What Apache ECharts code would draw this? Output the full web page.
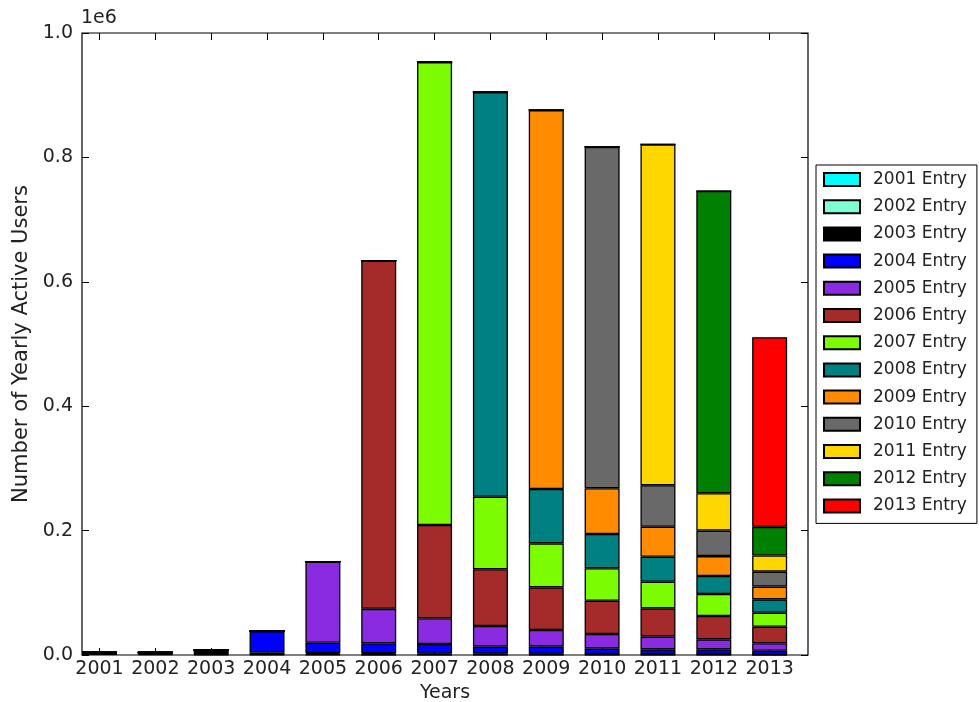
<!DOCTYPE html>
<html>
<head>
<meta charset="utf-8">
<script src="https://cdn.jsdelivr.net/npm/echarts@6/dist/echarts.min.js"></script>
<style>
  html, body { margin: 0; padding: 0; background: #fff; }
  #main { width: 979px; height: 702px; }
</style>
</head>
<body>
<div id="main"></div>
<script>
// years on the x axis
const years = ['2001', '2002', '2003', '2004', '2005', '2006', '2007', '2008', '2009', '2010', '2011', '2012', '2013'];

// active users per year, split by entry-year cohort
const entry2001 = [4000, 1000, 700, 600, 500, 500, 400, 400, 300, 300, 300, 300, 200];
const entry2002 = [0, 3000, 1000, 800, 700, 600, 500, 500, 400, 400, 300, 300, 300];
const entry2003 = [0, 0, 6000, 3000, 2000, 1800, 1500, 1300, 1200, 1000, 900, 800, 700];
const entry2004 = [0, 0, 0, 34000, 16600, 16000, 15300, 11200, 11500, 9000, 7600, 7700, 5700];
const entry2005 = [0, 0, 0, 0, 130200, 55300, 41300, 33200, 26800, 23100, 20400, 16100, 11900];
const entry2006 = [0, 0, 0, 0, 0, 559900, 150000, 91200, 68600, 53500, 45500, 37500, 26700];
const entry2007 = [0, 0, 0, 0, 0, 0, 744000, 116700, 70700, 52100, 42800, 35300, 22500];
const entry2008 = [0, 0, 0, 0, 0, 0, 0, 650500, 87500, 55100, 40200, 29000, 21500];
const entry2009 = [0, 0, 0, 0, 0, 0, 0, 0, 609000, 73500, 48300, 32000, 20500];
const entry2010 = [0, 0, 0, 0, 0, 0, 0, 0, 0, 549000, 66700, 41000, 24000];
const entry2011 = [0, 0, 0, 0, 0, 0, 0, 0, 0, 0, 548000, 60000, 26000];
const entry2012 = [0, 0, 0, 0, 0, 0, 0, 0, 0, 0, 0, 486000, 46000];
const entry2013 = [0, 0, 0, 0, 0, 0, 0, 0, 0, 0, 0, 0, 305000];

const cohortNames = ['2001 Entry', '2002 Entry', '2003 Entry', '2004 Entry', '2005 Entry', '2006 Entry', '2007 Entry',
  '2008 Entry', '2009 Entry', '2010 Entry', '2011 Entry', '2012 Entry', '2013 Entry'];
const cohortValues = [entry2001, entry2002, entry2003, entry2004, entry2005, entry2006, entry2007,
  entry2008, entry2009, entry2010, entry2011, entry2012, entry2013];

const yTicks = [0, 200000, 400000, 600000, 800000, 1000000];

const colors = ['#00ffff', '#7fffd4', '#000000', '#0000ff', '#8a2be2', '#a52a2a', '#7cfc00',
  '#008080', '#ff8c00', '#696969', '#ffd700', '#008000', '#ff0000'];

const FONT = 'DejaVu Sans';
const plotW = 726;
const band = plotW / years.length;
const barW = 35;
// bars sit at the left of each slot (matplotlib style), tick labels at bar centres
const shift = (barW / 2) / band;
const yearIdx = years.map((y, i) => i);

const series = cohortValues.map((vals, i) => ({
  name: cohortNames[i],
  type: 'bar',
  stack: 'users',
  barWidth: barW,
  barGap: '0%',
  data: vals,
  itemStyle: { color: colors[i], borderColor: '#000', borderWidth: 1.3 }
}));
// empty spacer stack that pushes the real bars to the left of each slot
series.push({
  name: 'spacer',
  type: 'bar',
  stack: 'spacer',
  barWidth: band - barW,
  barGap: '0%',
  data: years.map(() => null),
  silent: true
});

const tickStyle = { show: true, inside: true, length: 7, lineStyle: { color: '#000', width: 1 } };
// axes must not jump to the other axis' zero (x axis is shifted so 0 is not at the edge)
const noLine = { show: false, onZero: false };

const option = {
  animation: false,
  textStyle: { fontFamily: FONT },
  grid: {
    left: 82, right: 171, top: 33, bottom: 47,
    outerBoundsMode: 'none',
    containLabel: false,
    show: true, borderColor: '#000', borderWidth: 1.2, backgroundColor: 'transparent'
  },
  legend: {
    data: cohortNames,
    orient: 'vertical',
    left: 816,
    top: 165,
    padding: [6, 10, 9, 7],
    itemWidth: 36,
    itemHeight: 13,
    itemGap: 10.2,
    borderColor: '#000',
    borderWidth: 1,
    backgroundColor: '#fff',
    icon: 'rect',
    textStyle: { fontFamily: FONT, fontSize: 17, color: '#222', padding: [0, 0, 0, 8] }
  },
  xAxis: [
    {
      type: 'category',
      data: years,
      gridIndex: 0,
      axisLine: noLine,
      axisTick: { show: false },
      axisLabel: { show: false },
      splitLine: { show: false }
    },
    {
      type: 'value',
      position: 'bottom',
      min: -shift,
      max: years.length - shift,
      axisLine: noLine,
      splitLine: { show: false },
      axisTick: Object.assign({ customValues: yearIdx }, tickStyle),
      axisLabel: {
        customValues: yearIdx,
        formatter: v => years[Math.round(v)],
        fontFamily: FONT, fontSize: 19, color: '#222', margin: 5
      },
      name: 'Years',
      nameLocation: 'middle',
      nameGap: 27,
      nameTextStyle: { fontFamily: FONT, fontSize: 19, color: '#222' }
    },
    {
      type: 'value',
      position: 'top',
      min: -shift,
      max: years.length - shift,
      axisLine: noLine,
      splitLine: { show: false },
      axisTick: Object.assign({ customValues: yearIdx }, tickStyle),
      axisLabel: { show: false }
    }
  ],
  yAxis: [
    {
      type: 'value',
      min: 0,
      max: 1000000,
      interval: 200000,
      axisLine: noLine,
      splitLine: { show: false },
      axisTick: Object.assign({ customValues: yTicks }, tickStyle),
      axisLabel: {
        customValues: yTicks,
        formatter: v => (v / 1e6).toFixed(1),
        fontFamily: FONT, fontSize: 19, color: '#222', margin: 9
      },
      name: 'Number of Yearly Active Users',
      nameLocation: 'middle',
      nameGap: 47,
      nameTextStyle: { fontFamily: FONT, fontSize: 21, color: '#222' }
    },
    {
      type: 'value',
      position: 'right',
      min: 0,
      max: 1000000,
      interval: 200000,
      axisLine: noLine,
      splitLine: { show: false },
      axisTick: Object.assign({ customValues: yTicks }, tickStyle),
      axisLabel: { show: false }
    }
  ],
  graphic: [
    {
      type: 'text',
      left: 81,
      top: 9,
      style: { text: '1e6', fontFamily: FONT, fontSize: 19, fill: '#222' }
    }
  ],
  series: series
};

const chart = echarts.init(document.getElementById('main'), null, { renderer: 'canvas' });
chart.setOption(option);
</script>
</body>
</html>
